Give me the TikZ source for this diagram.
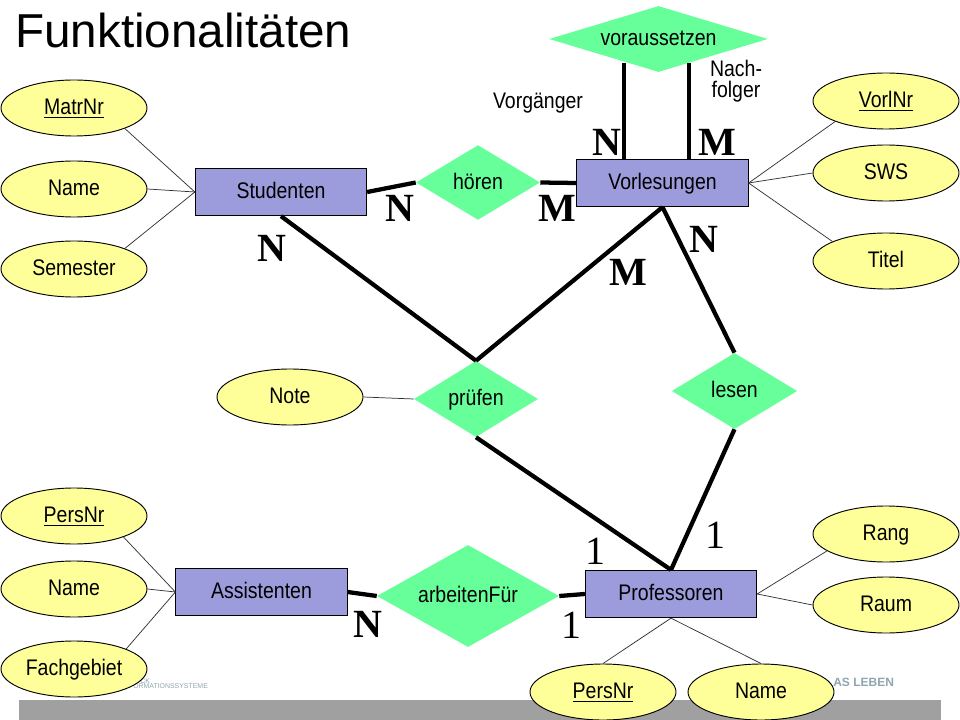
\documentclass[tikz,border=0pt]{standalone}
\usepackage{fontspec}
\setmainfont[FakeStretch=0.865]{Liberation Sans}
\newfontfamily\titlefont{Liberation Sans}
\newfontfamily\tnr{Liberation Serif}
\usetikzlibrary{shapes.geometric,calc}
\definecolor{attrfill}{HTML}{FFFF99}
\definecolor{relfill}{HTML}{66FF99}
\definecolor{entfill}{HTML}{9C9CDC}
\definecolor{bandgray}{HTML}{A0A0A0}
\definecolor{logoblue}{HTML}{8FA6B0}
\tikzset{
  x=0.75pt,y=-0.75pt,
  lbl/.style={font=\fontsize{16.9pt}{18pt}\selectfont,inner sep=0pt,text height=1.1em,text depth=.06em},
  attr/.style={lbl,ellipse,draw=black,fill=attrfill,line width=.7pt,minimum width=109.5pt,minimum height=42pt},
  ent/.style={lbl,rectangle,draw=black,fill=entfill,line width=.7pt,minimum width=128.5pt,minimum height=35.5pt},
  rel/.style={lbl,diamond,fill=relfill,inner sep=0pt},
  thin link/.style={draw=black!80,line width=.55pt},
  thick link/.style={draw=black,line width=3.2pt},
  card/.style={font=\fontsize{30pt}{30pt}\selectfont\tnr\bfseries,inner sep=0pt},
  cardone/.style={font=\fontsize{30pt}{30pt}\selectfont\tnr,inner sep=0pt},
  plain/.style={font=\fontsize{16.9pt}{15.5pt}\selectfont,inner sep=0pt,align=center},
  logo/.style={font=\titlefont\fontsize{5.2pt}{6pt}\selectfont,text=logoblue,inner sep=0pt,anchor=west},
}
\begin{document}
\begin{tikzpicture}
\useasboundingbox (0,0) rectangle (960,720);
\fill[white] (0,0) rectangle (960,720);
\fill[bandgray] (19,700) rectangle (941,720);
\node[logo] (logoa) at (140,681) {CK};
\node[logo] (logob) at (133,686) {ORMATIONSSYSTEME};
\node[logo,font=\titlefont\fontsize{9pt}{10pt}\selectfont\bfseries] (logoc) at (833,682) {AS LEBEN};

\node[inner sep=0pt,font=\titlefont\fontsize{35.7pt}{40pt}\selectfont,anchor=west] (title) at (15,30) {Funktionalitäten};

% entities
\node[ent] (stud) at (281,192) {Studenten};
\node[ent] (vorl) at (662.5,183) {Vorlesungen};
\node[ent] (assi) at (261.5,592) {Assistenten};
\node[ent] (prof) at (671,594) {Professoren};

% relationships
\node[rel,shape aspect=3.3,minimum width=164pt,minimum height=49.5pt] (vor) at (658.5,39) {voraussetzen};
\node[rel,shape aspect=1.65,minimum width=93pt,minimum height=56pt] (hoe) at (478,182.5) {hören};
\node[rel,shape aspect=1.65,minimum width=93pt,minimum height=57pt] (pru) at (476,399) {prüfen};
\node[rel,shape aspect=1.65,minimum width=94pt,minimum height=57pt] (les) at (734.5,391) {lesen};
\node[rel,shape aspect=1.78,minimum width=136.5pt,minimum height=76.5pt] (arb) at (468,596) {arbeitenFür};

% attributes
\node[attr] (matr) at (74,108) {\underline{MatrNr}};
\node[attr] (sname) at (74,189) {Name};
\node[attr] (sem) at (74,269) {Semester};
\node[attr] (vnr) at (886,101) {\underline{VorlNr}};
\node[attr] (sws) at (886,173) {SWS};
\node[attr] (tit) at (886,261) {Titel};
\node[attr] (note) at (290,397) {Note};
\node[attr] (apers) at (74,516) {\underline{PersNr}};
\node[attr] (aname) at (74,589) {Name};
\node[attr] (fach) at (74,669) {Fachgebiet};
\node[attr] (rang) at (886,534) {Rang};
\node[attr] (raum) at (886,605) {Raum};
\node[attr] (ppers) at (603,692) {\underline{PersNr}};
\node[attr] (pname) at (761,692) {Name};

% attribute links
\draw[thin link] (matr.-22) -- (stud.west);
\draw[thin link] (sname.east) -- (stud.west);
\draw[thin link] (sem.22) -- (stud.west);
\draw[thin link] (vnr.202) -- (vorl.east);
\draw[thin link] (sws.west) -- (vorl.east);
\draw[thin link] (tit.160) -- (vorl.east);
\draw[thin link] (apers.-23) -- (assi.west);
\draw[thin link] (aname.east) -- (assi.west);
\draw[thin link] (fach.21) -- (assi.west);
\draw[thin link] (rang.196) -- (prof.east);
\draw[thin link] (raum.west) -- (prof.east);
\draw[thin link] (ppers.north) -- (prof.south);
\draw[thin link] (pname.north) -- (prof.south);
\draw[thin link] (note.east) -- (pru.west);

% relationship links
\coordinate (vora) at (624,63);
\coordinate (vorb) at (689,63);
\draw[thick link] (vora) -- (vora |- vorl.north);
\draw[thick link] (vorb) -- (vorb |- vorl.north);
\draw[thick link] (stud.east) -- (hoe.west);
\draw[thick link] (hoe.east) -- (vorl.west);
\draw[thick link] (stud.south) -- (pru.north);
\draw[thick link] (vorl.south) -- (pru.north);
\draw[thick link] (vorl.south) -- (les.north);
\draw[thick link] (pru.south) -- (prof.north);
\draw[thick link] (les.south) -- (prof.north);
\draw[thick link] (assi.east) -- (arb.west);
\draw[thick link] (arb.east) -- (prof.west);

% cardinalities
\node[card] (c1) at (607,142) {N};
\node[card] (c2) at (717,142) {M};
\node[card] (c3) at (400,208) {N};
\node[card] (c4) at (557,208) {M};
\node[card] (c5) at (272,248) {N};
\node[card] (c6) at (704,239) {N};
\node[card] (c7) at (628,272) {M};
\node[card] (c8) at (368,624) {N};
\node[cardone] (c9) at (715,535) {1};
\node[cardone] (c10) at (595,551) {1};
\node[cardone] (c11) at (571,625) {1};

% role labels
\node[plain] (vg) at (538,103) {Vorgänger};
\node[plain] (nf) at (736,81) {Nach-\\folger};
\end{tikzpicture}
\end{document}
